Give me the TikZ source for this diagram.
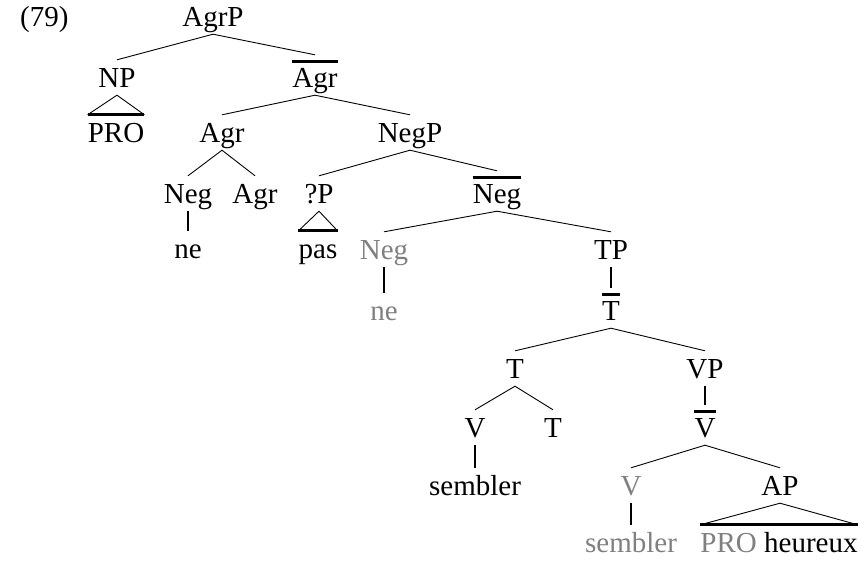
\documentclass[tikz,border=0pt]{standalone}
\usepackage{fontspec}
\setmainfont{Liberation Serif}
\usepackage{tikz}
\definecolor{tgray}{gray}{0.5}

\begin{document}
\begin{tikzpicture}[x=1pt,y=-1pt,
  font=\fontsize{29}{34}\selectfont,
  cat/.style={anchor=base,inner xsep=0pt,inner ysep=5pt,
              text height=22pt,text depth=3pt},
  barcat/.style={cat,text height=27pt},
  ghost/.style={cat,text=tgray},
  br/.style={line width=0.9pt},
  un/.style={line width=2.6pt},
  bar/.style={line width=2.8pt}]
\useasboundingbox (0,0) rectangle (860,560);
\node[cat,anchor=base west] (ex) at (20,26) {(79)};
% upper part
\node[cat]    (agrp)   at (213,26)  {AgrP};
\node[cat]    (np)     at (117,87)  {NP};
\node[barcat] (agrbar) at (315,87)  {Agr};
\node[cat]    (pro)    at (116,142) {PRO};
\node[cat]    (agr)    at (222,142) {Agr};
\node[cat]    (negp)   at (410,142) {NegP};
\node[cat]    (neg)    at (188,203) {Neg};
\node[cat]    (agrb)   at (255,203) {Agr};
\node[cat]    (qp)     at (319,203) {?P};
\node[barcat] (negbar) at (497,203) {Neg};
\node[cat]    (ne)     at (188,258) {ne};
\node[cat]    (pas)    at (318,258) {pas};
\node[ghost]  (negt)   at (384,259) {Neg};
\node[cat]    (tp)     at (611,259) {TP};
\node[ghost]  (net)    at (384,320) {ne};
\node[barcat] (tbar)   at (611,320) {T};
% lower part
\node[cat]    (t)      at (515,378) {T};
\node[cat]    (vp)     at (705,378) {VP};
\node[cat]    (v)      at (475,437) {V};
\node[cat]    (tb)     at (553,437) {T};
\node[barcat] (vbar)   at (705,437) {V};
\node[cat]    (semb)   at (475,495) {sembler};
\node[ghost]  (vt)     at (631,495) {V};
\node[cat]    (ap)     at (780,495) {AP};
\node[ghost]  (sembt)  at (631,552) {sembler};
\node[cat]    (apd)    at (779,552) {{\color{tgray}PRO} heureux};

\draw[br] (np.north) -- (agrp.south) -- (agrbar.north);
\draw[br] (pro.north west) -- (np.south) -- (pro.north east);
\draw[bar] (pro.north west) -- (pro.north east);
\draw[bar] ([yshift=-7pt]agrbar.north west) -- ([yshift=-7pt]agrbar.north east);
\draw[br] (agr.north) -- (agrbar.south) -- (negp.north);
\draw[br] (neg.north) -- (agr.south) -- (agrb.north);
\draw[un] (neg.south) -- (ne.north);
\draw[br] (qp.north) -- (negp.south) -- (negbar.north);
\draw[br] (pas.north west) -- (qp.south) -- (pas.north east);
\draw[bar] (pas.north west) -- (pas.north east);
\draw[bar] ([yshift=-7pt]negbar.north west) -- ([yshift=-7pt]negbar.north east);
\draw[br] (negt.north) -- (negbar.south) -- (tp.north);
\draw[un] (negt.south) -- (net.north);
\draw[un] (tp.south) -- (tbar.north);
\draw[bar] ([yshift=-7pt]tbar.north west) -- ([yshift=-7pt]tbar.north east);
\draw[br] (t.north) -- (tbar.south) -- (vp.north);
\draw[br] (v.north) -- (t.south) -- (tb.north);
\draw[un] (v.south) -- (semb.north);
\draw[un] (vp.south) -- (vbar.north);
\draw[bar] ([yshift=-7pt]vbar.north west) -- ([yshift=-7pt]vbar.north east);
\draw[br] (vt.north) -- (vbar.south) -- (ap.north);
\draw[un] (vt.south) -- (sembt.north);
\draw[br] (apd.north west) -- (ap.south) -- (apd.north east);
\draw[bar] (apd.north west) -- (apd.north east);
\end{tikzpicture}
\end{document}
